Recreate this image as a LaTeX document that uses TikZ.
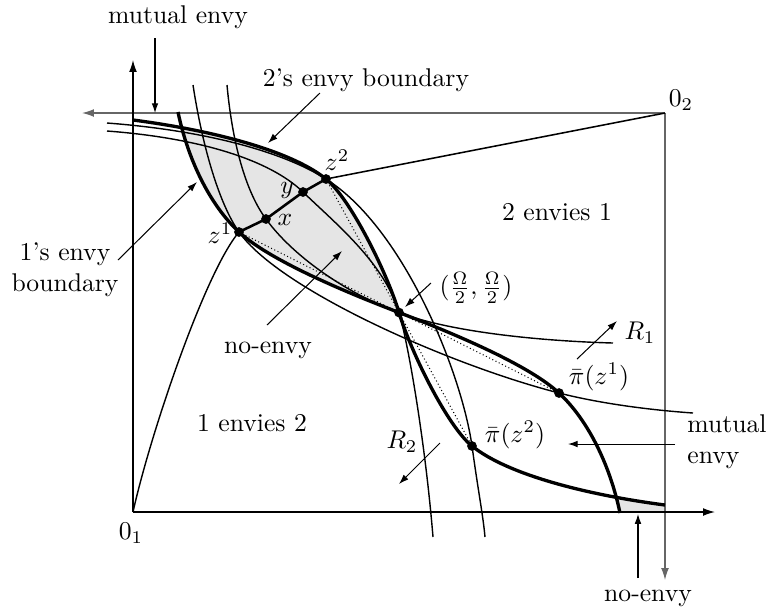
\documentclass[tikz,border=0pt]{standalone}
\usetikzlibrary{arrows.meta}
\newcommand\myA{(178,112) .. controls (188,160) and (210,205) .. (239,232) .. controls (268,259) and (340,290) .. (399,312.5) .. controls (458,335) and (530,366) .. (559,393) .. controls (588,420) and (610,465) .. (620,513)}
\newcommand\myB{(133,120) .. controls (210,130) and (290,150) .. (326,179) .. controls (350,198) and (387,272.5) .. (399,312.5) .. controls (411,352.5) and (448,427) .. (472,446) .. controls (508,475) and (588,495) .. (665,505)}
\begin{document}
\begin{tikzpicture}[x=0.39pt,y=-0.39pt,
  thinc/.style={line width=0.55pt},
  thickc/.style={line width=1.3pt},
  ann/.style={line width=0.4pt,-{Latex[length=3.8pt,width=2.6pt]}},
  axisA/.style={line width=0.5pt,-{Latex[length=4.6pt,width=3pt]}},
  axisB/.style={line width=0.5pt,black!60,-{Latex[length=4.6pt,width=3pt]}},
  dot/.style={circle,fill,inner sep=0pt,minimum size=3.8pt},
  lbl/.style={inner sep=1pt}]
\useasboundingbox (0,0) rectangle (769,614);
% key points
\coordinate (O1) at (133,512);
\coordinate (O2) at (665,113);
\coordinate (C) at (399,312.5);
\coordinate (z1) at (239,232);
\coordinate (xx) at (266,219);
\coordinate (yy) at (303,192);
\coordinate (z2) at (326,179);
\coordinate (pz1) at (559,393);
\coordinate (pz2) at (472,446);
% shading (no-envy regions)
\begin{scope}
  \clip \myA -- (665,513) -- (665,100) -- (178,100) -- cycle;
  \fill[black!10] \myB -- (665,512) -- (133,512) -- cycle;
\end{scope}
% agent 2 axes (grey)
\coordinate (O2l) at (82,113);
\coordinate (O2d) at (665,580);
\draw[axisB] (O2) -- (O2l);
\draw[axisB] (O2) -- (O2d);
% agent 1 axes
\coordinate (O1u) at (133,60);
\coordinate (O1r) at (715,512);
\draw[axisA] (O1) -- (O1u);
\draw[axisA] (O1) -- (O1r);
% dotted chords
\draw[densely dotted,line width=0.4pt] (z1) -- (pz1);
\draw[densely dotted,line width=0.4pt] (z2) -- (pz2);
% indifference curves
\draw[thinc] (193,85) .. controls (203,150) and (220,205) .. (z1) .. controls (280,290) and (450,365) .. (pz1) .. controls (600,403.5) and (650,410) .. (693,413);
\draw[thinc] (107,123) .. controls (200,130) and (280,150) .. (z2) .. controls (405,229) and (462,375) .. (pz2) .. controls (478,490) and (483,515) .. (485,537);
\draw[thinc] (227,85) .. controls (233,150) and (248,195) .. (xx) .. controls (292,255) and (345,293) .. (C) .. controls (450,332) and (540,341) .. (613,343);
\draw[thinc] (107,131) .. controls (200,138) and (270,160) .. (yy) .. controls (335,223) and (384,262.5) .. (C) .. controls (408,342.5) and (425,440) .. (433,537);
% envy boundaries
\draw[thickc] \myA;
\draw[thickc] \myB;
% path from O1 to O2
\draw[thinc] (O1) .. controls (150,435) and (205,272) .. (z1);
\draw[line width=1pt] (z1) -- (xx) -- (yy) -- (z2);
\draw[line width=0.6pt] (z2) -- (O2);
% dots
\node[dot] (dz1) at (z1) {};
\node[dot] (dx) at (xx) {};
\node[dot] (dy) at (yy) {};
\node[dot] (dz2) at (z2) {};
\node[dot] (dC) at (C) {};
\node[dot] (dpz1) at (pz1) {};
\node[dot] (dpz2) at (pz2) {};
% point labels
\node[lbl] (l01) at (131,533) {$0_1$};
\node[lbl] (l02) at (681,100) {$0_2$};
\node[lbl] (lz1) at (220,233) {$z^1$};
\node[lbl] (lx) at (285,220) {$x$};
\node[lbl] (ly) at (287,190) {$y$};
\node[lbl] (lz2) at (337,160) {$z^2$};
\node[lbl] (lpz1) at (599,377) {$\bar\pi(z^1)$};
\node[lbl] (lpz2) at (515,435) {$\bar\pi(z^2)$};
% region labels
\node[lbl] (t2e1) at (557,212) {2 envies 1};
\node[lbl] (t1e2) at (252,423) {1 envies 2};
% annotations
\node[lbl] (tmut) at (178,17) {mutual envy};
\coordinate (a1s) at (155,38); \coordinate (a1e) at (155,113);
\draw[ann] (a1s) -- (a1e);
\node[lbl] (t2env) at (366,80) {2's envy boundary};
\coordinate (a2s) at (320,93); \coordinate (a2e) at (268,143);
\draw[ann] (a2s) -- (a2e);
\node[lbl,align=center] (t1env) at (65,270) {1's envy\\boundary};
\coordinate (a3s) at (118,260); \coordinate (a3e) at (197,182);
\draw[ann] (a3s) -- (a3e);
\node[lbl] (tne) at (268,350) {no-envy};
\coordinate (a4s) at (267,325); \coordinate (a4e) at (342,251);
\draw[ann] (a4s) -- (a4e);
\node[lbl] (tOm) at (476,288) {$(\frac{\Omega}{2},\frac{\Omega}{2})$};
\coordinate (a5s) at (431,283); \coordinate (a5e) at (405,307);
\draw[ann] (a5s) -- (a5e);
\node[lbl] (tR1) at (640,333) {$R_1$};
\coordinate (a6s) at (577,359); \coordinate (a6e) at (617,321);
\draw[ann] (a6s) -- (a6e);
\node[lbl] (tR2) at (402,442) {$R_2$};
\coordinate (a7s) at (440,443); \coordinate (a7e) at (399,484);
\draw[ann] (a7s) -- (a7e);
\node[lbl,align=left] (tmr) at (727,442) {mutual\\envy};
\coordinate (a8s) at (675,444); \coordinate (a8e) at (568,444);
\draw[ann] (a8s) -- (a8e);
\node[lbl] (tnb) at (648,598) {no-envy};
\coordinate (a9s) at (638,578); \coordinate (a9e) at (638,514);
\draw[ann] (a9s) -- (a9e);
\end{tikzpicture}
\end{document}
